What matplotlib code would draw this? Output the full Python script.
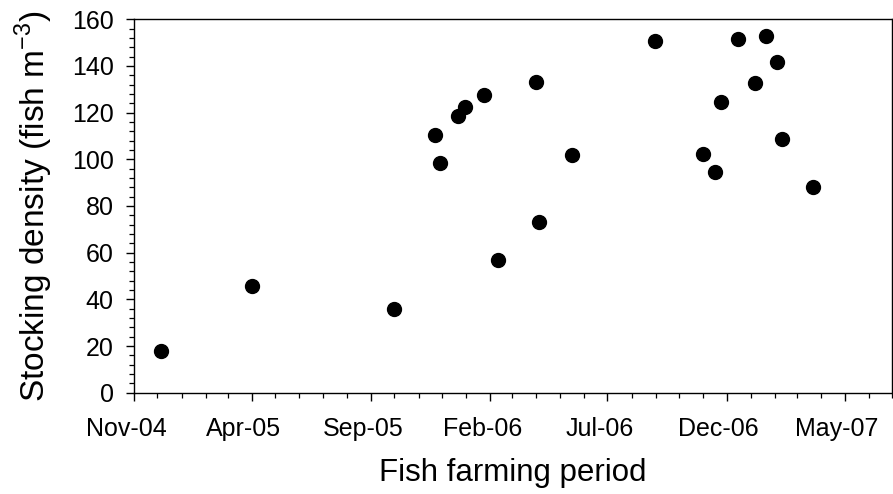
import matplotlib
matplotlib.use("Agg")
import matplotlib.pyplot as plt
import matplotlib.dates as mdates
from matplotlib.transforms import ScaledTranslation
from matplotlib.ticker import MultipleLocator, FixedLocator
import pandas as pd

plt.rcParams['font.family'] = ['Liberation Sans', 'DejaVu Sans']
plt.rcParams['mathtext.fontset'] = 'custom'
plt.rcParams['mathtext.rm'] = 'Liberation Sans'

# sampling dates and stocking densities (fish m-3)
sample_dates = [
    "2004-12-06", "2005-04-01", "2005-10-01", "2005-11-22", "2005-11-29",
    "2005-12-22", "2005-12-30", "2006-01-24", "2006-02-11", "2006-03-31",
    "2006-04-04", "2006-05-16", "2006-08-31", "2006-11-01", "2006-11-16",
    "2006-11-23", "2006-12-15", "2007-01-06", "2007-01-20", "2007-02-04",
    "2007-02-10", "2007-03-22",
]
stocking_density = [
    18.0, 45.6, 35.9, 110.3, 98.4,
    118.4, 122.5, 127.5, 56.7, 133.0,
    73.3, 101.7, 150.6, 102.1, 94.6,
    124.5, 151.4, 132.5, 152.7, 141.5,
    108.6, 88.0,
]

dates = pd.to_datetime(sample_dates)
start, end = pd.Timestamp("2004-11-01"), pd.Timestamp("2007-07-01")

fig = plt.figure(figsize=(8.93, 4.94), dpi=100)
ax = fig.add_axes([0.150, 0.205, 0.849, 0.756])

ax.plot(dates, stocking_density, linestyle='none', marker='o',
        markersize=10, color='black')

ax.set_xlim(start, end)
ax.set_ylim(0, 160)

# labelled tick every 5 months, small tick every month
major_dates = pd.date_range(start, end, freq='5MS')
ax.xaxis.set_major_locator(FixedLocator(mdates.date2num(major_dates)))
ax.xaxis.set_minor_locator(mdates.MonthLocator())
ax.xaxis.set_major_formatter(mdates.DateFormatter('%b-%y'))

ax.yaxis.set_major_locator(MultipleLocator(20))
ax.yaxis.set_minor_locator(MultipleLocator(4))

ax.tick_params(axis='both', which='major', direction='out', length=5.5,
               width=1.0, labelsize=18, color='black')
ax.tick_params(axis='both', which='minor', direction='out', length=3.5,
               width=0.9, color='black')
ax.tick_params(axis='y', which='major', pad=9)
ax.tick_params(axis='x', which='major', pad=12)

# date labels sit a little left of their ticks
shift = ScaledTranslation(-0.08, 0, fig.dpi_scale_trans)
for lbl in ax.get_xticklabels():
    lbl.set_transform(lbl.get_transform() + shift)

for spine in ax.spines.values():
    spine.set_linewidth(1.0)

ax.set_xlabel('Fish farming period', fontsize=22.5, labelpad=12)
ax.set_ylabel(r'Stocking density (fish m$^{\mathregular{-3}}$)', fontsize=24, labelpad=12)

fig.savefig('out.png', dpi=100)
